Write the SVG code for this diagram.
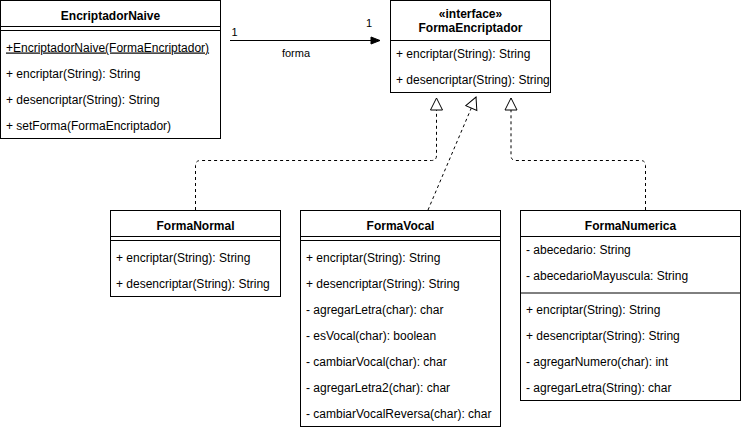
<svg xmlns="http://www.w3.org/2000/svg" width="741" height="430" viewBox="0 0 741 430">
<style>
  .box{fill:#fff;stroke:#000;stroke-width:1}
  .ln{stroke:#000;stroke-width:1;fill:none}
  .t{font-family:"Liberation Sans",Arial,sans-serif;font-size:12px;fill:#000}
  .b{font-weight:bold;text-anchor:middle}
  .u{text-decoration:underline}
  .lbl{font-family:"Liberation Sans",Arial,sans-serif;font-size:11px;fill:#000}
  .dash{stroke:#000;stroke-width:1;fill:none;stroke-dasharray:3 3}
</style>
<defs>
  <marker id="open" markerUnits="userSpaceOnUse" markerWidth="14" markerHeight="14" refX="12" refY="6" orient="auto" overflow="visible">
    <path d="M0,0 L12,6 L0,12 Z" fill="#fff" stroke="#000" stroke-width="1"/>
  </marker>
  <marker id="fill" markerUnits="userSpaceOnUse" markerWidth="10" markerHeight="8" refX="9" refY="3.5" orient="auto" overflow="visible">
    <path d="M0,0 L9,3.5 L0,7 Z" fill="#000" stroke="#000" stroke-width="1"/>
  </marker>
</defs>

<g id="connectors">
  <line class="ln" x1="230" y1="40.5" x2="380" y2="40.5" marker-end="url(#fill)"/>
  <text class="lbl" x="234.5" y="36" text-anchor="middle">1</text>
  <text class="lbl" x="369" y="26.5" text-anchor="middle">1</text>
  <text class="lbl" x="296" y="57" text-anchor="middle">forma</text>
  <path class="dash" d="M195.5,210 V165.5 Q195.5,160.5 200.5,160.5 H431.5 Q436.5,160.5 436.5,155.5 V98" marker-end="url(#open)"/>
  <path class="dash" d="M428,210 L476,97" marker-end="url(#open)"/>
  <path class="dash" d="M645.5,210 V165.5 Q645.5,160.5 640.5,160.5 H516 Q511,160.5 511,155.5 V98" marker-end="url(#open)"/>
</g>

<g id="EncriptadorNaive">
  <rect class="box" x="0.5" y="0.5" width="220" height="138"/>
  <line class="ln" x1="0.5" y1="26.5" x2="220.5" y2="26.5"/>
  <line class="ln" x1="0.5" y1="30.5" x2="220.5" y2="30.5"/>
  <text class="t b" x="110.5" y="19.5">EncriptadorNaive</text>
  <text class="t u" x="6" y="51.5">+EncriptadorNaive(FormaEncriptador)</text>
  <text class="t" x="6" y="77.5">+ encriptar(String): String</text>
  <text class="t" x="6" y="103.5">+ desencriptar(String): String</text>
  <text class="t" x="6" y="129.5">+ setForma(FormaEncriptador)</text>
</g>

<g id="FormaEncriptador">
  <rect class="box" x="390.5" y="0.5" width="160" height="92"/>
  <line class="ln" x1="390.5" y1="40.5" x2="550.5" y2="40.5"/>
  <text class="t b" x="470.5" y="18">«interface»</text>
  <text class="t b" x="470.5" y="32">FormaEncriptador</text>
  <text class="t" x="396" y="57.5">+ encriptar(String): String</text>
  <text class="t" x="396" y="83.5">+ desencriptar(String): String</text>
</g>

<g id="FormaNormal">
  <rect class="box" x="110.5" y="210.5" width="170" height="86"/>
  <line class="ln" x1="110.5" y1="236.5" x2="280.5" y2="236.5"/>
  <line class="ln" x1="110.5" y1="240.5" x2="280.5" y2="240.5"/>
  <text class="t b" x="195.5" y="229.5">FormaNormal</text>
  <text class="t" x="116" y="261.5">+ encriptar(String): String</text>
  <text class="t" x="116" y="287.5">+ desencriptar(String): String</text>
</g>

<g id="FormaVocal">
  <rect class="box" x="300.5" y="210.5" width="200" height="216"/>
  <line class="ln" x1="300.5" y1="236.5" x2="500.5" y2="236.5"/>
  <line class="ln" x1="300.5" y1="240.5" x2="500.5" y2="240.5"/>
  <text class="t b" x="400.5" y="229.5">FormaVocal</text>
  <text class="t" x="306" y="261.5">+ encriptar(String): String</text>
  <text class="t" x="306" y="287.5">+ desencriptar(String): String</text>
  <text class="t" x="306" y="313.5">- agregarLetra(char): char</text>
  <text class="t" x="306" y="339.5">- esVocal(char): boolean</text>
  <text class="t" x="306" y="365.5">- cambiarVocal(char): char</text>
  <text class="t" x="306" y="391.5">- agregarLetra2(char): char</text>
  <text class="t" x="306" y="417.5">- cambiarVocalReversa(char): char</text>
</g>

<g id="FormaNumerica">
  <rect class="box" x="520.5" y="210.5" width="220" height="190"/>
  <line class="ln" x1="520.5" y1="236.5" x2="740.5" y2="236.5"/>
  <line class="ln" x1="520.5" y1="293" x2="740.5" y2="293"/>
  <text class="t b" x="630.5" y="229.5">FormaNumerica</text>
  <text class="t" x="526" y="253.5">- abecedario: String</text>
  <text class="t" x="526" y="279.5">- abecedarioMayuscula: String</text>
  <text class="t" x="526" y="313.5">+ encriptar(String): String</text>
  <text class="t" x="526" y="339.5">+ desencriptar(String): String</text>
  <text class="t" x="526" y="365.5">- agregarNumero(char): int</text>
  <text class="t" x="526" y="391.5">- agregarLetra(String): char</text>
</g>
</svg>
